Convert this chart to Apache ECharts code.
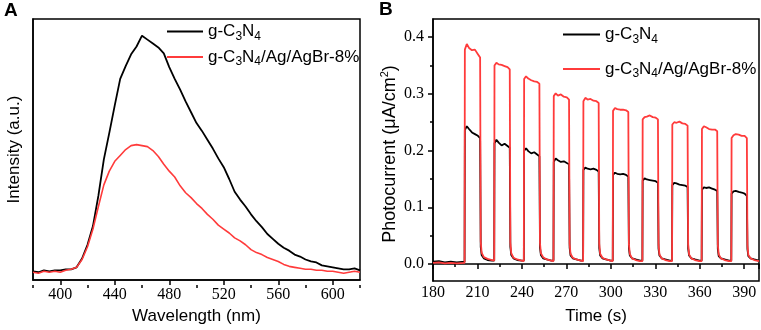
<!DOCTYPE html>
<html>
<head>
<meta charset="utf-8">
<script src="https://cdn.jsdelivr.net/npm/echarts@6/dist/echarts.min.js"></script>
<style>
  html, body { margin: 0; padding: 0; background: #fff; }
  #chart { width: 761px; height: 330px; }
</style>
</head>
<body>
<div id="chart"></div>
<script>
// ---- panel A: PL spectra ----
const wavelength = [
  380, 384, 388, 392, 396, 400, 404, 408, 412, 416,
  420, 424, 428, 432, 436, 440, 444, 448, 452, 456,
  460, 464, 468, 472, 476, 480, 484, 488, 492, 496,
  500, 504, 508, 512, 516, 520, 524, 528, 532, 536,
  540, 544, 548, 552, 556, 560, 564, 568, 572, 576,
  580, 584, 588, 592, 596, 600, 604, 608, 612, 616,
  620
];
const plBlack = [
  9, 8, 10, 9, 10, 10, 11, 11, 13, 22,
  36, 55, 86, 123, 150, 178, 205, 218, 230, 238,
  249, 245, 241, 237, 231, 217, 205, 194, 182, 171,
  160, 152, 143, 134, 124, 115, 103, 90, 82, 75,
  67, 60, 54, 47, 42, 37, 33, 30, 26, 24,
  21, 19, 18, 15, 14, 13, 12, 11, 11, 12,
  10
];
const plRed = [
  8, 7, 9, 8, 9, 8, 10, 11, 13, 21,
  34, 52, 75, 97, 111, 121, 127, 133, 137, 138,
  137, 136, 132, 126, 118, 111, 105, 96, 89, 84,
  78, 73, 67, 62, 56, 52, 48, 43, 40, 36,
  31, 28, 26, 23, 21, 19, 16, 14, 13, 12,
  11, 11, 10, 10, 9, 9, 8, 7, 8, 9,
  8
];
const wlLabels = [400, 440, 480, 520, 560, 600];
const wlMinor = [380, 420, 460, 500, 540, 580, 620];

// ---- panel B: photocurrent ----
const time = [
  180, 184, 188, 192, 196,
  201.3, 201.5, 202.8, 204.3, 206.3, 208.3, 210.3, 211.8, 212.2, 212.8, 214.3, 216.8, 219.8,
  221.3, 221.5, 222.8, 224.3, 226.3, 228.3, 230.3, 231.8, 232.2, 232.8, 234.3, 236.8, 239.8,
  241.3, 241.5, 242.8, 244.3, 246.3, 248.3, 250.3, 251.8, 252.2, 252.8, 254.3, 256.8, 259.8,
  261.3, 261.5, 262.8, 264.3, 266.3, 268.3, 270.3, 271.8, 272.2, 272.8, 274.3, 276.8, 279.8,
  281.3, 281.5, 282.8, 284.3, 286.3, 288.3, 290.3, 291.8, 292.2, 292.8, 294.3, 296.8, 299.8,
  301.3, 301.5, 302.8, 304.3, 306.3, 308.3, 310.3, 311.8, 312.2, 312.8, 314.3, 316.8, 319.8,
  321.3, 321.5, 322.8, 324.3, 326.3, 328.3, 330.3, 331.8, 332.2, 332.8, 334.3, 336.8, 339.8,
  341.3, 341.5, 342.8, 344.3, 346.3, 348.3, 350.3, 351.8, 352.2, 352.8, 354.3, 356.8, 359.8,
  361.3, 361.5, 362.8, 364.3, 366.3, 368.3, 370.3, 371.8, 372.2, 372.8, 374.3, 376.8, 379.8,
  381.3, 381.5, 382.8, 384.3, 386.3, 388.3, 390.3, 391.8, 392.2, 392.8, 394.3, 396.8, 400
];
const pcBlack = [
  0.004, 0.005, 0.003, 0.004, 0.003,
  0.004, 0.236, 0.243, 0.238, 0.232, 0.229, 0.226, 0.222, 0.030, 0.016, 0.010, 0.007, 0.006,
  0.006, 0.213, 0.219, 0.214, 0.209, 0.212, 0.208, 0.205, 0.030, 0.016, 0.010, 0.007, 0.006,
  0.006, 0.200, 0.204, 0.199, 0.195, 0.197, 0.193, 0.190, 0.029, 0.016, 0.010, 0.008, 0.006,
  0.006, 0.180, 0.186, 0.183, 0.180, 0.181, 0.178, 0.176, 0.029, 0.015, 0.010, 0.008, 0.006,
  0.006, 0.166, 0.170, 0.168, 0.167, 0.168, 0.166, 0.163, 0.028, 0.015, 0.010, 0.008, 0.006,
  0.006, 0.157, 0.161, 0.159, 0.158, 0.159, 0.157, 0.154, 0.028, 0.015, 0.010, 0.008, 0.006,
  0.006, 0.147, 0.151, 0.149, 0.148, 0.147, 0.146, 0.143, 0.027, 0.015, 0.010, 0.008, 0.006,
  0.006, 0.139, 0.143, 0.142, 0.140, 0.139, 0.138, 0.136, 0.027, 0.015, 0.010, 0.008, 0.006,
  0.006, 0.131, 0.135, 0.134, 0.135, 0.133, 0.131, 0.129, 0.026, 0.014, 0.010, 0.008, 0.006,
  0.006, 0.124, 0.128, 0.129, 0.127, 0.126, 0.124, 0.120, 0.026, 0.014, 0.010, 0.008, 0.006
];
const pcRed = [
  0.002, 0.003, 0.001, 0.002, 0.001,
  0.002, 0.378, 0.388, 0.381, 0.377, 0.378, 0.370, 0.364, 0.040, 0.020, 0.012, 0.009, 0.007,
  0.006, 0.350, 0.355, 0.352, 0.351, 0.349, 0.347, 0.343, 0.038, 0.019, 0.011, 0.008, 0.006,
  0.005, 0.326, 0.331, 0.327, 0.324, 0.322, 0.321, 0.318, 0.037, 0.019, 0.012, 0.008, 0.006,
  0.005, 0.296, 0.301, 0.297, 0.299, 0.295, 0.294, 0.290, 0.036, 0.018, 0.011, 0.008, 0.006,
  0.005, 0.287, 0.293, 0.290, 0.291, 0.288, 0.287, 0.284, 0.036, 0.018, 0.011, 0.008, 0.006,
  0.005, 0.270, 0.275, 0.273, 0.272, 0.272, 0.271, 0.268, 0.035, 0.018, 0.010, 0.007, 0.005,
  0.005, 0.255, 0.259, 0.260, 0.262, 0.259, 0.258, 0.255, 0.035, 0.017, 0.010, 0.007, 0.005,
  0.005, 0.246, 0.250, 0.249, 0.251, 0.248, 0.247, 0.244, 0.034, 0.017, 0.010, 0.007, 0.005,
  0.005, 0.238, 0.243, 0.241, 0.238, 0.237, 0.237, 0.234, 0.034, 0.017, 0.010, 0.007, 0.005,
  0.005, 0.222, 0.227, 0.229, 0.228, 0.226, 0.226, 0.222, 0.033, 0.016, 0.010, 0.007, 0.005
];
const pcLabels = [0, 0.1, 0.2, 0.3, 0.4];
const pcMinor = [0.05, 0.15, 0.25, 0.35];

const NAME_BARE = 'g-C3N4';
const NAME_COMP = 'g-C3N4/Ag/AgBr-8%';
const BLACK = '#000000';
const RED = '#ff3b3b';

const SERIF = 'Liberation Serif';
const SANS = 'Liberation Sans';

const tickLabel = { color: '#000', fontFamily: SERIF, fontSize: 16 };
const axisLine = { show: true, lineStyle: { color: '#000', width: 1.5 } };
const tickLine = { color: '#000', width: 1.5 };
const titleStyle = { fontFamily: SANS, fontSize: 17, color: '#000' };

const legendRich = {
  n: { fontFamily: SANS, fontSize: 17, color: '#000', lineHeight: 22, verticalAlign: 'middle' },
  s: { fontFamily: SANS, fontSize: 12, color: '#000', lineHeight: 12, verticalAlign: 'bottom' }
};
const legendFmt = (name) => name === NAME_BARE
  ? '{n|g-C}{s|3}{n|N}{s|4}'
  : '{n|g-C}{s|3}{n|N}{s|4}{n|/Ag/AgBr-8%}';

const zip = (xs, ys) => xs.map((x, i) => [x, ys[i]]);

// hidden helper axes (only used to draw the short minor ticks)
const hiddenAxis = (gridIndex, min, max) => ({
  gridIndex, type: 'value', min, max, show: false
});

const chart = echarts.init(document.getElementById('chart'), null, { renderer: 'canvas' });

chart.setOption({
  animation: false,
  backgroundColor: '#fff',
  graphic: [
    { type: 'text', left: 4, top: 1, style: { text: 'A', font: 'bold 19px "Liberation Sans"', fill: '#000' } },
    { type: 'text', left: 379, top: 0, style: { text: 'B', font: 'bold 19px "Liberation Sans"', fill: '#000' } }
  ],
  grid: [
    { left: 33, top: 19, width: 327, height: 266, show: true, borderColor: '#000', borderWidth: 1.5 },
    { left: 433, top: 19, width: 326, height: 262, show: true, borderColor: '#000', borderWidth: 1.5 },
    { left: 33, top: 19, width: 327, height: 266 },
    { left: 433, top: 19, width: 326, height: 262 }
  ],
  legend: [
    {
      orient: 'vertical', left: 167, top: 23, padding: 0, itemWidth: 36, itemHeight: 2, itemGap: 6,
      icon: 'rect', selectedMode: false, data: [NAME_BARE, NAME_COMP],
      formatter: legendFmt, textStyle: { rich: legendRich }
    },
    {
      orient: 'vertical', left: 563, top: 26, padding: 0, itemWidth: 37, itemHeight: 2, itemGap: 15,
      icon: 'rect', selectedMode: false, data: [NAME_BARE, NAME_COMP],
      formatter: legendFmt, textStyle: { rich: legendRich }
    }
  ],
  xAxis: [
    {
      gridIndex: 0, type: 'value', min: 380, max: 620, position: 'bottom',
      axisLine: axisLine,
      axisTick: { show: true, length: 5, customValues: wlLabels, lineStyle: tickLine },
      axisLabel: { ...tickLabel, margin: 7, customValues: wlLabels },
      splitLine: { show: false },
      name: 'Wavelength (nm)', nameLocation: 'middle', nameGap: 23,
      nameTextStyle: titleStyle
    },
    {
      gridIndex: 1, type: 'value', min: 180, max: 400, interval: 30, position: 'bottom',
      axisLine: axisLine,
      axisTick: { show: true, length: 5, lineStyle: tickLine },
      minorTick: { show: true, splitNumber: 2, length: 3, lineStyle: tickLine },
      axisLabel: { ...tickLabel, margin: 4, showMaxLabel: false },
      splitLine: { show: false },
      name: 'Time (s)', nameLocation: 'middle', nameGap: 27,
      nameTextStyle: titleStyle
    },
    {
      gridIndex: 2, type: 'value', min: 380, max: 620, position: 'bottom',
      axisLine: { show: false },
      axisTick: { show: true, length: 3, customValues: wlMinor, lineStyle: tickLine },
      axisLabel: { show: false },
      splitLine: { show: false }
    },
    hiddenAxis(3, 180, 400)
  ],
  yAxis: [
    {
      gridIndex: 0, type: 'value', min: 0, max: 266,
      axisLine: axisLine,
      axisTick: { show: false },
      axisLabel: { show: false },
      splitLine: { show: false },
      name: 'Intensity (a.u.)', nameLocation: 'middle', nameGap: 10,
      nameTextStyle: titleStyle
    },
    {
      gridIndex: 1, type: 'value', min: -0.03, max: 0.432,
      axisLine: axisLine,
      axisTick: { show: true, length: 5, customValues: pcLabels, lineStyle: tickLine },
      axisLabel: { ...tickLabel, margin: 9, customValues: pcLabels, formatter: (v) => v.toFixed(1) },
      splitLine: { show: false },
      name: '{n|Photocurrent (\u03bcA/cm}{p|2}{n|)}', nameLocation: 'middle', nameGap: 32,
      nameTextStyle: {
        color: '#000',
        padding: [0, 8, 0, 0],
        rich: {
          n: { fontFamily: SANS, fontSize: 18, color: '#000', lineHeight: 22, verticalAlign: 'middle' },
          p: { fontFamily: SANS, fontSize: 11, color: '#000', lineHeight: 11, verticalAlign: 'top' }
        }
      }
    },
    hiddenAxis(2, 0, 266),
    {
      gridIndex: 3, type: 'value', min: -0.03, max: 0.432, position: 'left',
      axisLine: { show: false },
      axisTick: { show: true, length: 3, customValues: pcMinor, lineStyle: tickLine },
      axisLabel: { show: false },
      splitLine: { show: false }
    }
  ],
  series: [
    {
      name: NAME_BARE, type: 'line', xAxisIndex: 0, yAxisIndex: 0, symbol: 'none',
      color: BLACK, lineStyle: { color: BLACK, width: 1.8 }, data: zip(wavelength, plBlack)
    },
    {
      name: NAME_COMP, type: 'line', xAxisIndex: 0, yAxisIndex: 0, symbol: 'none',
      color: RED, lineStyle: { color: RED, width: 1.6 }, data: zip(wavelength, plRed)
    },
    {
      name: NAME_BARE, type: 'line', xAxisIndex: 1, yAxisIndex: 1, symbol: 'none',
      color: BLACK, lineStyle: { color: BLACK, width: 1.8 }, data: zip(time, pcBlack)
    },
    {
      name: NAME_COMP, type: 'line', xAxisIndex: 1, yAxisIndex: 1, symbol: 'none',
      color: RED, lineStyle: { color: RED, width: 1.8 }, data: zip(time, pcRed)
    }
  ]
});
</script>
</body>
</html>
